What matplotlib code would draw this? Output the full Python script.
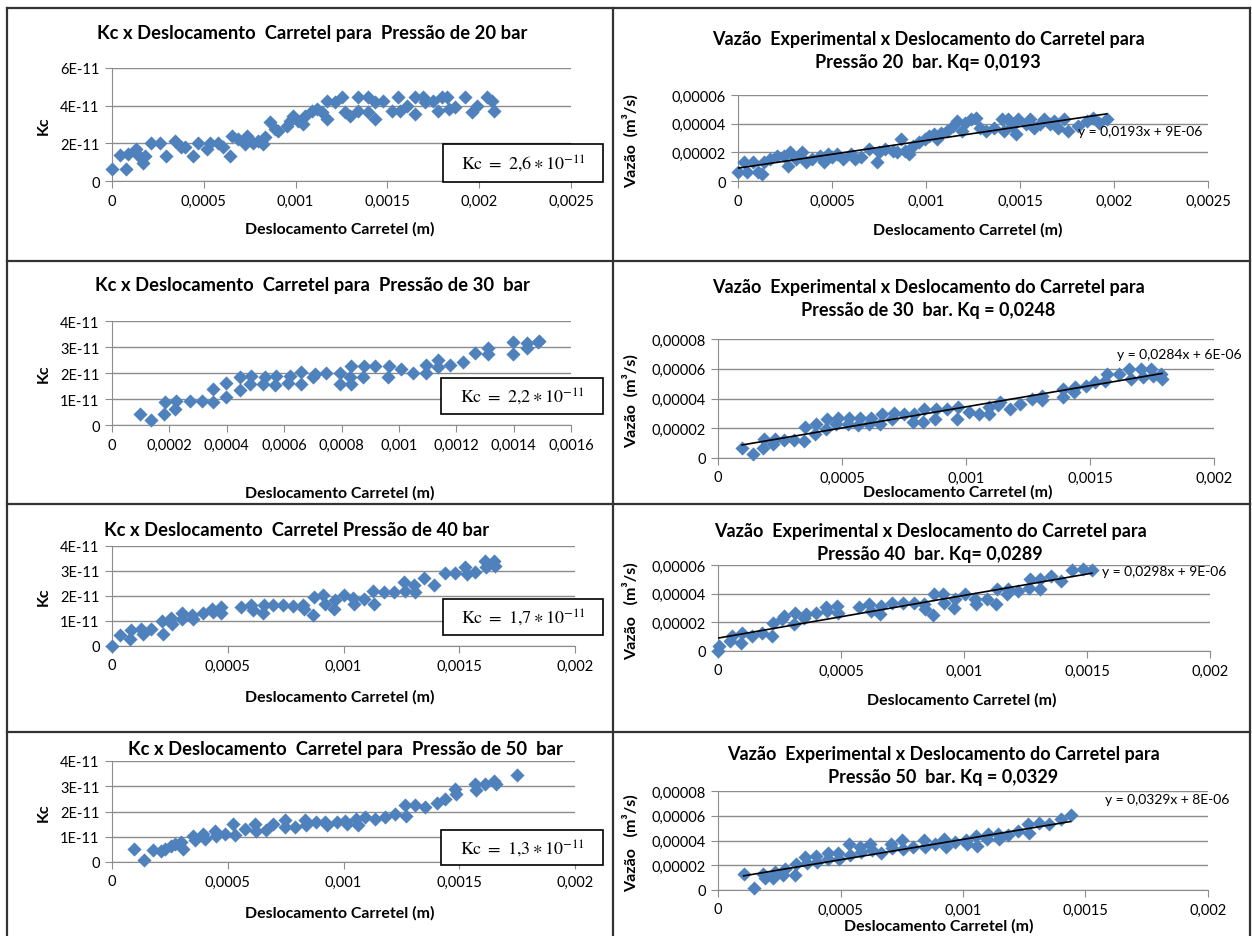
import numpy as np
import matplotlib.pyplot as plt
from matplotlib.patches import Rectangle
from matplotlib.lines import Line2D
from matplotlib.ticker import FuncFormatter, MultipleLocator

plt.rcParams['font.family'] = ['Lato', 'DejaVu Sans']
plt.rcParams['mathtext.fontset'] = 'stix'

BLUE = '#4F81BD'
GRID = '#8C8C8C'
W, H = 1252, 937

# ---- data (x in mm, Kc in 1e-11, vazao in 1e-5 m3/s) ----
kc20_x = [0.0, 0.042, 0.078, 0.087, 0.133, 0.142, 0.169, 0.178, 0.215, 0.26, 0.296, 0.342, 0.378, 0.396,
          0.442, 0.469, 0.515, 0.533, 0.578, 0.605, 0.642, 0.651, 0.687, 0.724, 0.733, 0.769, 0.796, 0.824,
          0.833, 0.86, 0.887, 0.905, 0.951, 0.969, 0.987, 1.015, 1.042, 1.051, 1.087, 1.115, 1.142, 1.169,
          1.169, 1.215, 1.251, 1.269, 1.296, 1.342, 1.342, 1.396, 1.396, 1.433, 1.433, 1.478, 1.524, 1.56,
          1.569, 1.605, 1.651, 1.651, 1.696, 1.705, 1.751, 1.778, 1.796, 1.824, 1.833, 1.869, 1.924, 1.96,
          1.987, 2.042, 2.069, 2.078]
kc20_y = [0.66, 1.37, 0.66, 1.42, 1.69, 1.37, 0.98, 1.33, 2.04, 2.04, 1.33, 2.13, 1.78, 1.78,
          1.33, 2.04, 1.72, 2.04, 2.04, 1.78, 1.33, 2.4, 2.22, 1.96, 2.4, 2.04, 2.13, 1.96,
          2.31, 3.11, 2.76, 2.67, 2.93, 3.2, 3.47, 3.2, 3.02, 3.47, 3.73, 3.82, 3.64, 3.29,
          4.27, 4.18, 4.44, 3.64, 3.47, 4.44, 3.73, 4.44, 3.64, 3.29, 4.18, 4.27, 3.73, 4.44,
          3.73, 4.0, 4.44, 3.56, 4.44, 4.18, 4.27, 3.73, 4.44, 4.44, 3.82, 3.91, 4.44, 3.64,
          4.0, 4.44, 4.27, 3.73]

q20_x = [0.0, 0.03, 0.05, 0.08, 0.105, 0.127, 0.137, 0.17, 0.21, 0.245, 0.266, 0.277, 0.31, 0.34, 0.363,
         0.395, 0.438, 0.459, 0.48, 0.5, 0.524, 0.556, 0.6, 0.62, 0.652, 0.695, 0.738, 0.75, 0.78, 0.824,
         0.845, 0.867, 0.888, 0.91, 0.93, 0.963, 0.996, 1.017, 1.04, 1.06, 1.08, 1.114, 1.146, 1.167, 1.19,
         1.21, 1.242, 1.264, 1.285, 1.318, 1.36, 1.403, 1.414, 1.436, 1.457, 1.478, 1.49, 1.532, 1.554,
         1.575, 1.607, 1.63, 1.661, 1.682, 1.704, 1.736, 1.757, 1.811, 1.854, 1.886, 1.918, 1.961]
q20_y = [0.62, 1.31, 0.62, 1.31, 0.62, 0.5, 1.31, 1.54, 1.77, 1.77, 1.08, 2.0, 1.54, 2.0, 1.31,
         1.54, 1.77, 1.31, 1.88, 1.65, 1.88, 1.54, 1.88, 1.54, 1.65, 2.23, 1.31, 2.0, 2.23, 2.11,
         2.0, 2.92, 2.11, 1.88, 2.46, 2.69, 2.92, 3.15, 3.26, 2.92, 3.38, 3.49, 3.84, 4.18, 3.49,
         4.07, 4.3, 4.41, 3.72, 3.49, 3.72, 4.3, 3.49, 4.3, 3.84, 3.26, 4.3, 3.95, 4.3,
         3.72, 3.95, 4.3, 3.95, 4.18, 3.72, 4.3, 3.49, 3.84, 4.18, 4.41, 4.07, 4.3]

kc30_x = [0.097, 0.137, 0.181, 0.184, 0.219, 0.224, 0.271, 0.312, 0.352, 0.352, 0.399, 0.399, 0.445, 0.445,
          0.48, 0.486, 0.527, 0.533, 0.567, 0.573, 0.614, 0.62, 0.66, 0.66, 0.701, 0.707, 0.747, 0.794,
          0.794, 0.829, 0.833, 0.833, 0.876, 0.879, 0.916, 0.963, 0.965, 1.007, 1.05, 1.093, 1.093, 1.137,
          1.137, 1.178, 1.224, 1.265, 1.312, 1.312, 1.399, 1.399, 1.445, 1.445, 1.485, 1.49]
kc30_y = [0.44, 0.21, 0.44, 0.88, 0.63, 0.92, 0.92, 0.92, 0.88, 1.4, 1.08, 1.62, 1.36, 1.85,
          1.59, 1.87, 1.59, 1.85, 1.53, 1.87, 1.62, 1.87, 1.59, 2.04, 1.85, 1.97, 2.0, 2.0,
          1.56, 1.85, 1.56, 2.26, 1.85, 2.26, 2.26, 1.85, 2.26, 2.17, 2.0, 2.0, 2.29, 2.49,
          2.23, 2.29, 2.42, 2.77, 2.97, 2.74, 3.19, 2.74, 2.97, 3.15, 3.2, 3.25]

q30_x = [0.097, 0.14, 0.18, 0.184, 0.22, 0.228, 0.268, 0.308, 0.348, 0.351, 0.391, 0.396, 0.436, 0.439,
         0.476, 0.484, 0.524, 0.529, 0.564, 0.572, 0.609, 0.615, 0.652, 0.66, 0.7, 0.708, 0.748, 0.788,
         0.791, 0.827, 0.832, 0.875, 0.88, 0.923, 0.963, 0.968, 1.011, 1.051, 1.091, 1.091, 1.131, 1.139,
         1.179, 1.219, 1.267, 1.307, 1.307, 1.391, 1.391, 1.435, 1.439, 1.482, 1.522, 1.562, 1.57, 1.618,
         1.658, 1.666, 1.706, 1.714, 1.746, 1.754, 1.786, 1.79]
q30_y = [0.67, 0.29, 0.67, 1.3, 0.96, 1.3, 1.18, 1.18, 1.12, 2.08, 1.63, 2.3, 1.97, 2.64,
         2.3, 2.68, 2.3, 2.68, 2.19, 2.68, 2.3, 2.68, 2.3, 2.97, 2.64, 3.04, 2.97, 2.41,
         2.97, 2.41, 3.31, 2.64, 3.31, 3.31, 2.64, 3.42, 3.08, 2.97, 2.97, 3.42, 3.53, 3.75,
         3.31, 3.64, 3.98, 4.2, 3.87, 4.65, 4.09, 4.42, 4.76, 4.87, 5.09, 5.21, 5.65, 5.65,
         5.99, 5.32, 5.99, 5.43, 5.99, 5.54, 5.65, 5.32]

kc40_x = [0.0, 0.033, 0.076, 0.084, 0.127, 0.134, 0.17, 0.216, 0.22, 0.254, 0.259, 0.303, 0.303, 0.346,
          0.35, 0.393, 0.432, 0.437, 0.473, 0.473, 0.559, 0.602, 0.61, 0.653, 0.657, 0.696, 0.739, 0.782,
          0.826, 0.83, 0.869, 0.873, 0.912, 0.919, 0.96, 0.963, 1.003, 1.042, 1.046, 1.089, 1.128, 1.133,
          1.176, 1.219, 1.262, 1.265, 1.305, 1.308, 1.349, 1.392, 1.438, 1.481, 1.525, 1.532, 1.568, 1.611,
          1.614, 1.651, 1.654]
kc40_y = [0.0, 0.43, 0.29, 0.63, 0.69, 0.49, 0.67, 0.99, 0.49, 1.12, 0.89, 1.33, 1.07, 1.23,
          1.09, 1.33, 1.49, 1.36, 1.56, 1.33, 1.56, 1.63, 1.43, 1.33, 1.63, 1.65, 1.63, 1.6,
          1.63, 1.47, 1.23, 1.96, 2.03, 1.69, 1.49, 1.83, 2.03, 1.92, 1.69, 1.89, 2.19, 1.69,
          2.16, 2.16, 2.56, 2.19, 2.45, 2.16, 2.72, 2.43, 2.92, 2.92, 3.16, 2.89, 2.96, 3.39,
          3.16, 3.39, 3.2]

q40_x = [0.0, 0.005, 0.049, 0.057, 0.095, 0.098, 0.139, 0.18, 0.22, 0.225, 0.261, 0.27, 0.31, 0.314,
         0.351, 0.356, 0.4, 0.438, 0.444, 0.482, 0.487, 0.575, 0.613, 0.621, 0.657, 0.662, 0.706, 0.752,
         0.797, 0.837, 0.842, 0.874, 0.879, 0.915, 0.918, 0.961, 0.964, 1.005, 1.046, 1.049, 1.092, 1.132,
         1.136, 1.176, 1.18, 1.221, 1.266, 1.27, 1.307, 1.31, 1.353, 1.394, 1.438, 1.484, 1.52]
q40_y = [0.0, 0.35, 0.7, 1.05, 0.58, 1.28, 1.05, 1.28, 1.05, 1.94, 2.22, 2.45, 1.87, 2.68,
         2.33, 2.57, 2.68, 3.1, 2.8, 3.15, 2.68, 3.1, 3.27, 2.8, 2.57, 3.15, 3.38, 3.38,
         3.34, 3.27, 2.92, 2.5, 3.97, 3.97, 3.38, 3.03, 3.62, 3.97, 3.62, 3.27, 3.66, 3.27,
         4.36, 3.97, 4.32, 4.2, 4.43, 5.02, 4.36, 5.02, 5.2, 4.9, 5.67, 5.72, 5.67]

kc50_x = [0.095, 0.138, 0.177, 0.213, 0.228, 0.256, 0.271, 0.3, 0.307, 0.35, 0.357, 0.393, 0.401, 0.444,
          0.451, 0.487, 0.523, 0.53, 0.573, 0.617, 0.624, 0.667, 0.696, 0.746, 0.746, 0.79, 0.833, 0.84,
          0.883, 0.919, 0.927, 0.97, 1.006, 1.013, 1.056, 1.063, 1.092, 1.135, 1.179, 1.222, 1.265, 1.268,
          1.311, 1.354, 1.402, 1.438, 1.481, 1.488, 1.568, 1.571, 1.611, 1.651, 1.657, 1.748]
kc50_y = [0.53, 0.07, 0.46, 0.43, 0.53, 0.62, 0.72, 0.79, 0.53, 1.01, 0.86, 1.09, 0.92, 1.22,
          1.01, 1.12, 1.51, 1.05, 1.32, 1.51, 1.22, 1.28, 1.51, 1.67, 1.38, 1.38, 1.67, 1.45,
          1.58, 1.58, 1.45, 1.58, 1.64, 1.51, 1.71, 1.45, 1.78, 1.71, 1.78, 1.91, 2.24, 1.84,
          2.24, 2.17, 2.33, 2.5, 2.89, 2.7, 3.07, 2.86, 3.09, 3.22, 3.09, 3.46]

q50_x = [0.105, 0.145, 0.185, 0.19, 0.225, 0.233, 0.265, 0.273, 0.314, 0.317, 0.357, 0.362, 0.402, 0.405,
         0.447, 0.45, 0.49, 0.495, 0.534, 0.539, 0.579, 0.582, 0.622, 0.627, 0.667, 0.707, 0.712, 0.752,
         0.756, 0.796, 0.839, 0.844, 0.884, 0.924, 0.929, 0.969, 1.013, 1.016, 1.053, 1.058, 1.096, 1.101,
         1.141, 1.145, 1.182, 1.225, 1.267, 1.27, 1.31, 1.35, 1.399, 1.439]
q50_y = [1.27, 0.19, 1.32, 1.01, 1.01, 1.46, 1.19, 1.72, 1.25, 2.12, 2.65, 2.2, 2.73, 2.25,
         2.99, 2.52, 2.99, 2.52, 3.71, 2.83, 3.44, 3.1, 3.71, 3.26, 2.99, 3.71, 3.36, 4.05,
         3.31, 3.44, 4.05, 3.44, 3.71, 4.11, 3.44, 3.84, 4.05, 3.71, 4.37, 3.58, 4.11, 4.5,
         4.5, 4.16, 4.42, 4.77, 5.3, 4.64, 5.38, 5.3, 5.75, 6.09]

kc_text = ['2{,}6', '2{,}2', '1{,}7', '1{,}3']
kq_slope = [0.0193, 0.0284, 0.0298, 0.0329]
kq_inter = [9e-6, 6e-6, 9e-6, 8e-6]
trend_lbl = ['y = 0,0193x + 9E-06', 'y = 0,0284x + 6E-06', 'y = 0,0298x + 9E-06', 'y = 0,0329x + 8E-06']

kc_titles = ['Kc x Deslocamento  Carretel para  Pressão de 20 bar',
             'Kc x Deslocamento  Carretel para  Pressão de 30  bar',
             'Kc x Deslocamento  Carretel Pressão de 40 bar',
             'Kc x Deslocamento  Carretel para  Pressão de 50  bar']
q_titles = ['Vazão  Experimental x Deslocamento do Carretel para\nPressão 20  bar. Kq= 0,0193',
            'Vazão  Experimental x Deslocamento do Carretel para\nPressão de 30  bar. Kq = 0,0248',
            'Vazão  Experimental x Deslocamento do Carretel para\nPressão 40  bar. Kq= 0,0289',
            'Vazão  Experimental x Deslocamento do Carretel para\nPressão 50  bar. Kq = 0,0329']
q_ylabels = ['Vazão  (m³/s)', 'Vazão  (m³/s)', 'Vazão   (m³/s)', 'Vazão   (m³/s)']

kc_data = [(kc20_x, kc20_y), (kc30_x, kc30_y), (kc40_x, kc40_y), (kc50_x, kc50_y)]
q_data = [(q20_x, q20_y), (q30_x, q30_y), (q40_x, q40_y), (q50_x, q50_y)]

fig = plt.figure(figsize=(W / 100, H / 100), dpi=100)


def rect(x0, y0, x1, y1):
    return [x0 / W, 1 - y1 / H, (x1 - x0) / W, (y1 - y0) / H]


def num(v, pos=None):
    if abs(v) < 1e-15:
        return '0'
    return f'{v:.6f}'.rstrip('0').rstrip('.').replace('.', ',')


def sci(v, pos=None):
    if abs(v) < 1e-20:
        return '0'
    return f'{v / 1e-11:.0f}E-11'


def make_axes(px, xmax, xstep, ymax, ystep, yfmt):
    ax = fig.add_axes(rect(*px))
    ax.set_xlim(0, xmax)
    ax.set_ylim(0, ymax)
    ax.xaxis.set_major_locator(MultipleLocator(xstep))
    ax.yaxis.set_major_locator(MultipleLocator(ystep))
    ax.xaxis.set_major_formatter(FuncFormatter(num))
    ax.yaxis.set_major_formatter(FuncFormatter(yfmt))
    ax.grid(axis='y', color=GRID, lw=1)
    ax.set_axisbelow(True)
    for s in ['top', 'right']:
        ax.spines[s].set_visible(False)
    for s in ['left', 'bottom']:
        ax.spines[s].set_color(GRID)
    ax.tick_params(length=5, color=GRID, labelsize=10.5, pad=4)
    return ax


# layout in pixels: axes rect, title y, xlabel y
kc_axes = [(112, 69, 571, 182), (112, 322, 571, 426), (112, 547, 575, 647), (112, 762, 575, 863)]
kc_xlim = [(0.0025, 0.0005), (0.0016, 0.0002), (0.002, 0.0005), (0.002, 0.0005)]
kc_ylim = [(6e-11, 2e-11), (4e-11, 1e-11), (4e-11, 1e-11), (4e-11, 1e-11)]
kc_title_xy = [(312, 33), (312, 285), (297, 531), (345, 750)]
kc_xlab_y = [229, 493, 697, 913]
kc_box = [(443, 145, 603, 183), (441, 379, 603, 415), (443, 600, 603, 636), (441, 831, 603, 866)]

q_axes = [(738, 96, 1208, 182), (718, 340, 1214, 459), (718, 566, 1210, 652), (718, 792, 1208, 891)]
q_xlim = [(0.0025, 0.0005), (0.002, 0.0005), (0.002, 0.0005), (0.002, 0.0005)]
q_ylim = [(6e-5, 2e-5), (8e-5, 2e-5), (6e-5, 2e-5), (8e-5, 2e-5)]
q_title_xy = [(928, 51), (928, 299), (930, 543), (943, 766)]
q_xlab = [(968, 230), (958, 492), (962, 700), (939, 926)]
q_lbl_xy = [(0.00181, 3.5e-5), (0.00161, 7.0e-5), (0.00156, 5.55e-5), (0.00158, 7.35e-5)]

for i in range(4):
    # ---- left: Kc ----
    ax = make_axes(kc_axes[i], *kc_xlim[i], *kc_ylim[i], sci)
    x = np.array(kc_data[i][0]) * 1e-3
    y = np.array(kc_data[i][1]) * 1e-11
    ax.scatter(x, y, marker='D', s=52, color=BLUE, linewidths=0, zorder=3, clip_on=False)
    fig.text(kc_title_xy[i][0] / W, 1 - kc_title_xy[i][1] / H, kc_titles[i],
             ha='center', va='center', fontsize=13.2, fontweight='bold')
    fig.text(340 / W, 1 - kc_xlab_y[i] / H, 'Deslocamento Carretel (m)',
             ha='center', va='center', fontsize=11.4, fontweight='bold')
    ax0, ay0, ax1, ay1 = kc_axes[i]
    fig.text(44 / W, 1 - (ay0 + ay1) / 2 / H, 'Kc', rotation=90,
             ha='center', va='center', fontsize=11.5, fontweight='bold')
    bx0, by0, bx1, by1 = kc_box[i]
    fig.patches.append(Rectangle((bx0 / W, 1 - by1 / H), (bx1 - bx0) / W, (by1 - by0) / H,
                                 transform=fig.transFigure, facecolor='white',
                                 edgecolor='black', lw=1.2, zorder=5))
    fig.text((bx0 + bx1) / 2 / W, 1 - (by0 + by1) / 2 / H,
             r'$\mathrm{Kc\ =\ ' + kc_text[i] + r'} \ast 10^{-11}$',
             ha='center', va='center', fontsize=13, zorder=6)

    # ---- right: vazao ----
    ax = make_axes(q_axes[i], *q_xlim[i], *q_ylim[i], num)
    x = np.array(q_data[i][0]) * 1e-3
    y = np.array(q_data[i][1]) * 1e-5
    ax.scatter(x, y, marker='D', s=52, color=BLUE, linewidths=0, zorder=3, clip_on=False)
    xt = np.array([x.min(), x.max()])
    ax.plot(xt, kq_slope[i] * xt + kq_inter[i], color='black', lw=1.2, zorder=4)
    ax.text(*q_lbl_xy[i], trend_lbl[i], fontsize=10, va='center', ha='left', zorder=5)
    fig.text(q_title_xy[i][0] / W, 1 - q_title_xy[i][1] / H, q_titles[i],
             ha='center', va='center', fontsize=13, fontweight='bold', linespacing=1.45)
    fig.text(q_xlab[i][0] / W, 1 - q_xlab[i][1] / H, 'Deslocamento Carretel (m)',
             ha='center', va='center', fontsize=11.4, fontweight='bold')
    qx0, qy0, qx1, qy1 = q_axes[i]
    fig.text(630 / W, 1 - ((qy0 + qy1) / 2 + 2) / H, q_ylabels[i], rotation=90,
             ha='center', va='center', fontsize=11.5, fontweight='bold')

# table borders
for yy in [9, 262, 505, 733]:
    fig.lines.append(Line2D([7 / W, 1250 / W], [1 - yy / H, 1 - yy / H],
                            transform=fig.transFigure, color='#333333', lw=1.6))
for xx in [7, 613, 1250]:
    fig.lines.append(Line2D([xx / W, xx / W], [1 - 9 / H, 0],
                            transform=fig.transFigure, color='#333333', lw=1.6))

fig.savefig('out.png', dpi=100)
